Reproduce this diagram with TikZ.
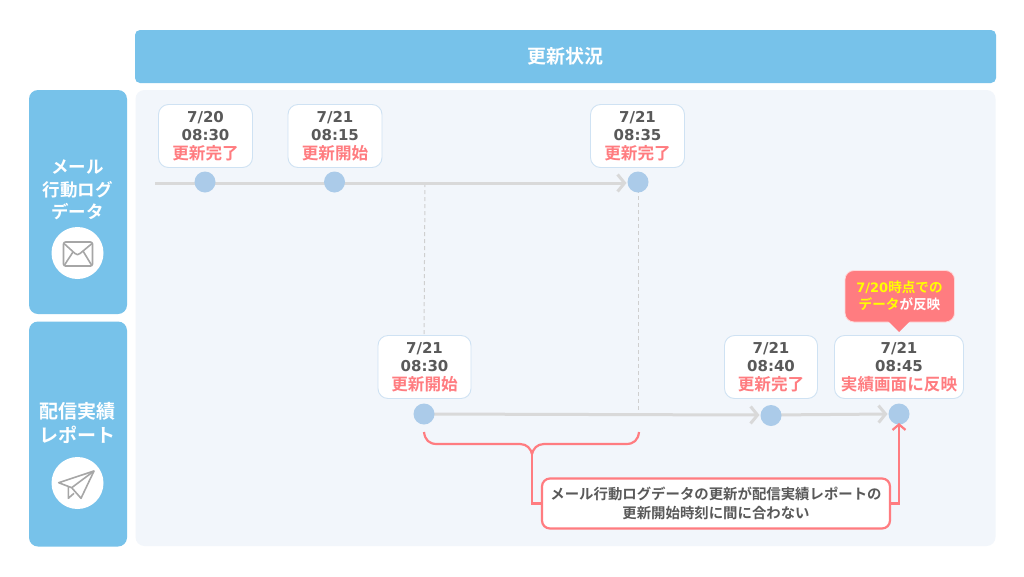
\documentclass[tikz,border=0pt]{standalone}
\usepackage{fontspec}
\setmainfont{Noto Sans CJK JP}[BoldFont={Noto Sans CJK JP Bold}]
\newfontfamily\latf{DejaVu Sans}
\newcommand{\lat}[1]{{\latf\bfseries #1}}
\definecolor{hdr}{HTML}{77C2EA}
\definecolor{pnl}{HTML}{F2F6FB}
\definecolor{pink}{HTML}{FF7C80}
\definecolor{dotc}{HTML}{ABCBE9}
\definecolor{edge}{HTML}{CFE2F3}
\definecolor{gline}{HTML}{D9D9D9}
\definecolor{guidec}{HTML}{CFCFCF}
\definecolor{txt}{HTML}{595959}
\definecolor{icon}{HTML}{A6A6A6}
\definecolor{yel}{HTML}{FFFF00}
\usetikzlibrary{arrows.meta}
\tikzset{
 x=1pt,y=-1pt,
 every node/.style={inner sep=0pt,outer sep=0pt},
 sidebox/.style={fill=hdr,rounded corners=9pt,minimum width=98pt,text=white,align=center},
 timebox/.style={draw=edge,line width=0.9pt,fill=white,rounded corners=10pt,minimum height=63pt,text=txt,align=center,font=\fontsize{15}{18.5}\selectfont},
 tdot/.style={circle,fill=dotc,minimum size=21pt},
 flow/.style={draw=gline,line width=3pt},
 flowarrow/.style={flow,-{Straight Barb[length=7pt,width=17pt,line width=3pt]}},
 guide/.style={draw=guidec,line width=1pt,dash pattern=on 4pt off 3pt},
 pinkline/.style={draw=pink,line width=2.2pt},
 ic/.style={draw=icon,line width=1.6pt,line join=round},
}
\newcommand{\red}[1]{{\fontsize{16.6}{18.5}\selectfont\textcolor{pink}{\bfseries #1}}}
\begin{document}
\begin{tikzpicture}
\useasboundingbox (0,0) rectangle (1024,576);
\fill[white] (0,0) rectangle (1024,576);
% header and panel
\node[fill=hdr,rounded corners=5pt,minimum width=861pt,minimum height=53pt,text=white,font=\fontsize{19}{22}\selectfont\bfseries] (head) at (565.5,56.5) {更新状況};
\node[fill=pnl,rounded corners=9pt,minimum width=860pt,minimum height=456pt] (panel) at (565.5,318) {};
% side boxes
\node[sidebox,minimum height=224pt] (mail) at (78,202) {};
\node[sidebox,minimum height=225pt] (rep) at (78,434) {};
\node[white,font=\fontsize{17.5}{22.5}\selectfont\bfseries,align=center] (mailt) at (77.5,190) {メール\\行動ログ\\データ};
\node[white,font=\fontsize{19}{23.5}\selectfont\bfseries,align=center] (rept) at (77.5,423) {配信実績\\レポート};
\node[circle,fill=white,minimum size=52pt] (mailic) at (77.5,253) {};
\node[circle,fill=white,minimum size=52pt] (repic) at (77.5,483) {};
% envelope
\draw[ic,rounded corners=2pt] (63.5,242) rectangle (92.5,266);
\draw[ic] (64,243.5) -- (75,253.5) .. controls (77,255) and (78,255) .. (80,253.5) -- (92,243.5);
\draw[ic] (64.5,265) -- (73,252);
\draw[ic] (91.5,265) -- (83,251);
% paper plane
\draw[ic] (94,471) -- (58.7,482.7) -- (71.7,487.7) -- (81,498.3) -- cycle;
\draw[ic] (94,471) -- (71.7,487.7);
\draw[ic] (68.3,486.5) -- (68.3,498.3) -- (74,493.3);
% guides and flows
\coordinate (st) at (155,183);
\coordinate (g1) at (425,183);
\coordinate (g2) at (424,336);
\coordinate (g3) at (638,414.5);
\coordinate (d1i) at (205,183);
\coordinate (d2i) at (334.5,183);
\coordinate (d3i) at (626.5,183);
\coordinate (d4i) at (424,414);
\coordinate (d5i) at (759.5,415);
\coordinate (d6i) at (887.5,414);
\coordinate (d5o) at (771,415);
\draw[guide] (g1) -- (g2);
\draw[guide] (638,182) -- (g3);
\draw[flow] (st) -- (d1i) -- (d2i);
\draw[flowarrow] (d2i) -- (d3i);
\draw[flowarrow] (d4i) -- (d5i);
\draw[flowarrow] (d5o) -- (d6i);
% dots
\node[tdot] (d1) at (205,182) {};
\node[tdot] (d2) at (334.5,182) {};
\node[tdot] (d3) at (638,182) {};
\node[tdot] (d4) at (424,414) {};
\node[tdot] (d5) at (771,415.5) {};
\node[tdot] (d6) at (899,414) {};
% time boxes
\node[timebox,minimum width=94pt] (b1) at (205.5,136) {\lat{7/20}\\\lat{08:30}\\\red{更新完了}};
\node[timebox,minimum width=94pt] (b2) at (335,136) {\lat{7/21}\\\lat{08:15}\\\red{更新開始}};
\node[timebox,minimum width=94pt] (b3) at (637.5,136) {\lat{7/21}\\\lat{08:35}\\\red{更新完了}};
\node[timebox,minimum width=93pt] (b4) at (424.5,367) {\lat{7/21}\\\lat{08:30}\\\red{更新開始}};
\node[timebox,minimum width=93pt] (b5) at (771,367) {\lat{7/21}\\\lat{08:40}\\\red{更新完了}};
\node[timebox,minimum width=129pt] (b6) at (899,367) {\lat{7/21}\\\lat{08:45}\\\red{実績画面に反映}};
% top callout
\draw[draw=white!70!pink,line width=0.8pt,fill=pink,rounded corners=9pt] (845,270.5) -- (954.5,270.5) -- (954.5,322) -- (845,322) -- cycle;
\fill[pink] (888,321) -- (910,321) -- (899,332) -- cycle;
\node[text=white,font=\fontsize{13.6}{17}\selectfont\bfseries,align=center] (call) at (899.5,296) {\textcolor{yel}{{\latf\fontsize{13}{17}\selectfont\bfseries 7/20}時点での}\\\textcolor{yel}{データ}が反映};
% note
\node[draw=pink,line width=2.2pt,fill=white,rounded corners=8pt,minimum width=348pt,minimum height=50pt,text=txt,font=\fontsize{14.4}{18.5}\selectfont\bfseries,align=center] (note) at (716,503.5) {メール行動ログデータの更新が配信実績レポートの\\更新開始時刻に間に合わない};
% brace
\coordinate (bl) at (424,432);
\coordinate (br) at (639,432);
\coordinate (bm) at (532,454);
\draw[pinkline] (bl) .. controls (425,440) and (429,444) .. (437,444) -- (520,444) .. controls (527,444) and (531,449) .. (bm);
\draw[pinkline] (br) .. controls (638,440) and (634,444) .. (626,444) -- (544,444) .. controls (537,444) and (533,449) .. (bm);
\draw[pinkline] (bm) |- (note.west);
\draw[pinkline,-{Straight Barb[length=5.5pt,width=13pt,line width=2.2pt]}] (note.east) -| ([yshift=1.5pt]d6.south);
\end{tikzpicture}
\end{document}
